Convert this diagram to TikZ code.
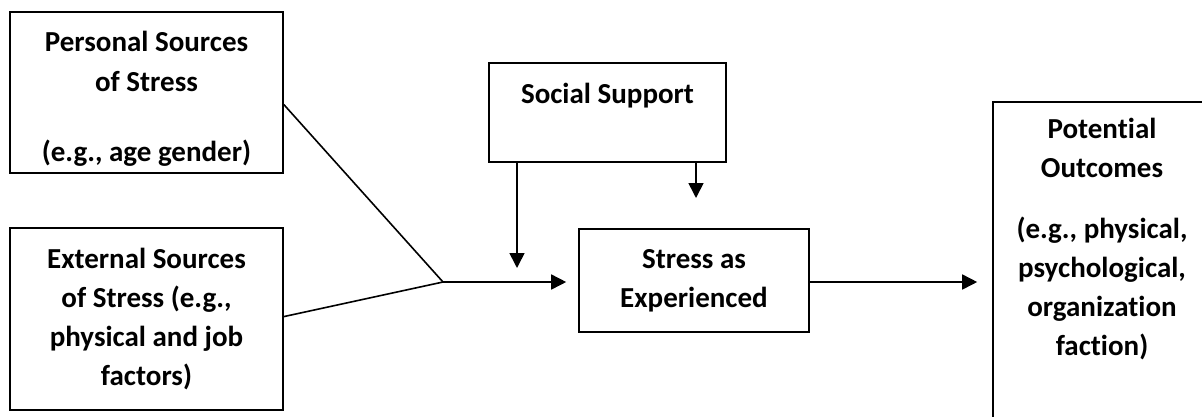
\documentclass[tikz,border=0pt]{standalone}
\usepackage{fontspec}
\setmainfont{Carlito}[Ligatures=CommonOff]
\usetikzlibrary{positioning}
\usetikzlibrary{arrows.meta}

\begin{document}
\begin{tikzpicture}[x=1pt,y=-1pt,
 box/.style={draw,line width=1.6pt,align=center,inner sep=0pt,font=\fontsize{29}{39}\selectfont\bfseries},
 link/.style={line width=1.6pt},
 arr/.style={line width=1.6pt,-{Triangle[length=15pt,width=15pt]}}]
 \clip (0,0) rectangle (1202,416);
 \node[box,minimum width=273,minimum height=161] (personal) at (146.5,92.5) {\rule{0pt}{32pt}Personal Sources\\[1pt]of Stress\\[31pt](e.g., age gender)};
 \node[box,minimum width=273,minimum height=182] (external) at (146.5,319) {External Sources\\of Stress (e.g.,\\physical and job\\factors)};
 \node[box,minimum width=237,minimum height=99] (social) at (607.5,112.5) {Social Support\\\mbox{}};
 \node[box,minimum width=230,minimum height=103] (stress) at (694,280.5) {Stress as\\Experienced};
 \node[box,minimum width=218,anchor=north,inner ysep=16pt] (outcomes) at (1102,101) {Potential\\Outcomes\\[22pt](e.g., physical,\\psychological,\\organization\\faction)\\[100pt]\mbox{}};
 \coordinate (junct) at (443,282);
 \coordinate (mod1) at (517,268);
 \coordinate (mod2) at (696,198);
 \draw[link] (personal.-5.6) -- (junct);
 \draw[link] (external.1.7) -- (junct);
 \draw[arr,shorten >=12pt] (junct) -- (junct -| stress.west);
 \draw[arr] (social.south -| mod1) -- (mod1);
 \draw[arr] (social.south -| mod2) -- (mod2);
 \draw[arr,shorten >=15pt] (stress.east |- junct) -- (junct -| outcomes.west);
\end{tikzpicture}
\end{document}
